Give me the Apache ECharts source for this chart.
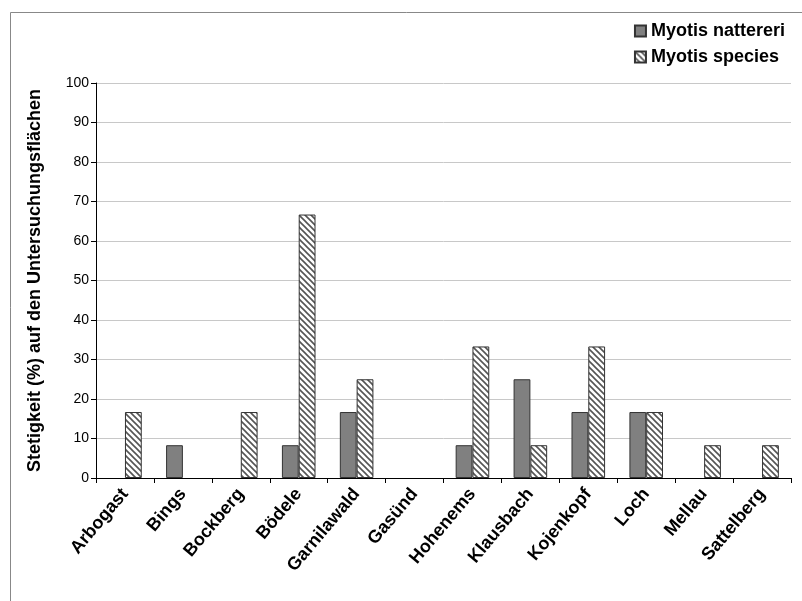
<!DOCTYPE html>
<html>
<head>
<meta charset="utf-8">
<script src="https://cdn.jsdelivr.net/npm/echarts@6/dist/echarts.min.js"></script>
<style>
html,body{margin:0;padding:0;background:#fff;}
#chart{width:802px;height:601px;}
</style>
</head>
<body>
<div id="chart"></div>
<script>
const categories = ['Arbogast','Bings','Bockberg','Bödele','Garnilawald','Gasünd','Hohenems','Klausbach','Kojenkopf','Loch','Mellau','Sattelberg'];
const seriesNames = ['Myotis nattereri','Myotis species'];
const nattereri = [0, 8.3, 0, 8.3, 16.7, 0, 8.3, 25, 16.7, 16.7, 0, 0];
const species = [16.7, 0, 16.7, 66.7, 25, 0, 33.3, 8.3, 33.3, 16.7, 8.3, 8.3];
const yTicks = [0,10,20,30,40,50,60,70,80,90,100];
const yTitle = 'Stetigkeit (%) auf den Untersuchungsflächen';

function hatch(){
  const c = document.createElement('canvas');
  c.width = 6; c.height = 6;
  const g = c.getContext('2d');
  g.fillStyle = '#ffffff'; g.fillRect(0,0,6,6);
  g.strokeStyle = '#555555'; g.lineWidth = 1.6;
  g.beginPath();
  g.moveTo(-1,-1); g.lineTo(7,7);
  g.moveTo(-1,5); g.lineTo(1,7);
  g.moveTo(5,-1); g.lineTo(7,1);
  g.stroke();
  return c;
}
function nz(arr){ return arr.map(function(v){ return v === 0 ? '-' : v; }); }

const font = "'Liberation Sans', Arial, sans-serif";
const chart = echarts.init(document.getElementById('chart'), null, {renderer:'canvas'});
chart.setOption({
  animation:false,
  backgroundColor:'#ffffff',
  graphic:[{type:'rect', shape:{x:10.5,y:12.5,width:1000,height:1000}, style:{fill:'none', stroke:'#888888', lineWidth:1}, z:-1}],
  legend:{
    orient:'vertical', right:12, top:17, itemWidth:11, itemHeight:11, itemGap:8,
    icon:'rect',
    textStyle:{fontFamily:font, fontSize:18, fontWeight:'bold', color:'#000'},
    data:seriesNames
  },
  grid:{left:96, right:11, top:83, bottom:123, containLabel:false},
  xAxis:{
    type:'category', data:categories,
    axisLine:{lineStyle:{color:'#000', width:1}},
    axisTick:{show:true, alignWithLabel:false, length:5, lineStyle:{color:'#000'}},
    axisLabel:{rotate:50, interval:0, margin:13, fontFamily:font, fontSize:18, fontWeight:'bold', color:'#000'}
  },
  yAxis:{
    type:'value', min:0, max:100, interval:10,
    name:yTitle, nameLocation:'middle', nameGap:52,
    nameTextStyle:{fontFamily:font, fontSize:18, fontWeight:'bold', color:'#000'},
    axisLine:{show:true, lineStyle:{color:'#000', width:1}},
    axisTick:{show:true, length:5, lineStyle:{color:'#000'}},
    axisLabel:{margin:7, fontFamily:font, fontSize:14, color:'#000',
      formatter:function(v){ return yTicks.indexOf(v) >= 0 ? String(v) : ''; }},
    splitLine:{show:true, lineStyle:{color:'#c8c8c8', width:1}}
  },
  series:[
    {name:seriesNames[0], type:'bar', data:nz(nattereri), barWidth:'29%', barGap:'0%',
      itemStyle:{color:'#808080', borderColor:'#333333', borderWidth:1}},
    {name:seriesNames[1], type:'bar', data:nz(species), barWidth:'29%', barGap:'0%',
      itemStyle:{color:{image:hatch(), repeat:'repeat'}, borderColor:'#333333', borderWidth:1}}
  ]
});
</script>
</body>
</html>
